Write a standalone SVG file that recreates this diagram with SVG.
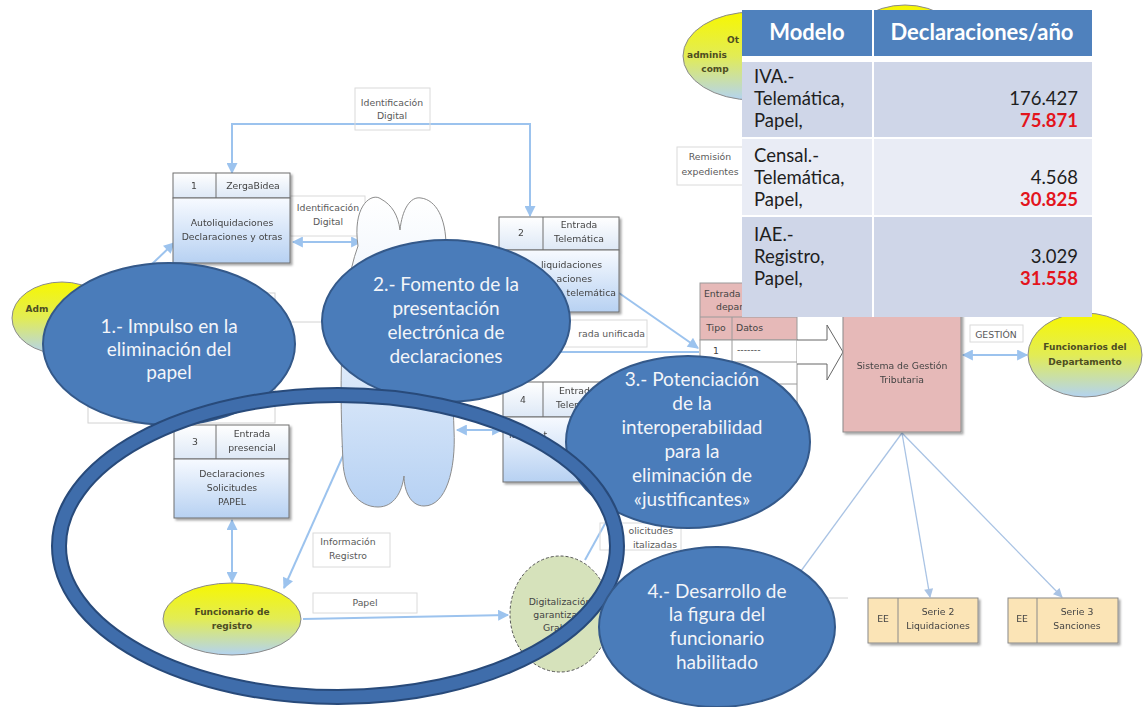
<svg xmlns="http://www.w3.org/2000/svg" width="1144" height="707" viewBox="0 0 1144 707">
<style>
.t{font-family:"DejaVu Sans",sans-serif;font-size:9.3px;fill:#444;text-anchor:middle}
.l{font-family:"DejaVu Sans",sans-serif;font-size:9.3px;fill:#5a5a5a;text-anchor:middle}
.s{text-anchor:start}
.e{text-anchor:end}
.y{font-family:"DejaVu Sans",sans-serif;font-size:9px;font-weight:bold;fill:#4d4d22;text-anchor:middle}
.big{font-family:Lato,"Open Sans",sans-serif;font-size:19px;fill:#f3f5f9;text-anchor:middle}
.th{font-family:Lato,"Open Sans",sans-serif;font-size:22px;font-weight:bold;fill:#fff;text-anchor:middle}
.tb{font-family:Lato,"Open Sans",sans-serif;font-size:18.5px;fill:#1e1e1e}
.num{font-family:Lato,"Open Sans",sans-serif;font-size:18.5px;fill:#1e1e1e;text-anchor:end}
.red{fill:#e3141c;font-weight:bold}
.conn{stroke:#9cc3ee;stroke-width:2;fill:none}
.fan{stroke:#a9c3e4;stroke-width:1.3;fill:none}
.lb{fill:none;stroke:#dadada;stroke-width:1}
.gl{fill:none;stroke:#d2d2d2;stroke-width:1}
.box{stroke:#6f6f6f;stroke-width:1}
.blue{fill:#4a7cba;stroke:#34598a;stroke-width:2}
.yel{fill:url(#gYel);stroke:#8a8a8a;stroke-width:1}
</style>
<defs>
<linearGradient id="gBody" x1="0" y1="0" x2="0" y2="1"><stop offset="0" stop-color="#f7faff"/><stop offset="1" stop-color="#b7d1f2"/></linearGradient>
<linearGradient id="gHead" x1="0" y1="0" x2="0" y2="1"><stop offset="0" stop-color="#ffffff"/><stop offset="1" stop-color="#dde8f6"/></linearGradient>
<linearGradient id="gCloud" x1="0" y1="0" x2="0" y2="1"><stop offset="0" stop-color="#ffffff"/><stop offset="0.4" stop-color="#eaf2fc"/><stop offset="1" stop-color="#b6d1f3"/></linearGradient>
<linearGradient id="gYel" x1="0" y1="0" x2="0" y2="1"><stop offset="0" stop-color="#f7f700"/><stop offset="0.5" stop-color="#e2ec55"/><stop offset="1" stop-color="#b3d3f1"/></linearGradient>
<filter id="sh" x="-10%" y="-10%" width="130%" height="130%"><feDropShadow dx="2" dy="2" stdDeviation="1.2" flood-color="#000" flood-opacity="0.35"/></filter>
<marker id="ah" viewBox="0 0 10 10" refX="9" refY="5" markerWidth="6" markerHeight="5.5" orient="auto-start-reverse" markerUnits="strokeWidth"><path d="M0,0 L10,5 L0,10 z" fill="#9cc3ee"/></marker>
<marker id="af" viewBox="0 0 10 10" refX="9" refY="5" markerWidth="8" markerHeight="7" orient="auto" markerUnits="strokeWidth"><path d="M0,0 L10,5 L0,10 z" fill="#a9c3e4"/></marker>
</defs>
<rect width="1144" height="707" fill="#ffffff"/>

<g id="connectors">
<path class="conn" d="M232,173 L232,124 L530,124 L530,216" marker-start="url(#ah)" marker-end="url(#ah)"/>
<path class="conn" d="M293,242 L361,242" marker-start="url(#ah)" marker-end="url(#ah)"/>
<path class="conn" d="M152,264 L174,243" marker-end="url(#ah)"/>
<path class="gl" d="M108,322 L340,322"/>
<rect class="gl" x="88" y="293" width="187" height="130"/>
<path class="conn" d="M619,293 L698,348" marker-end="url(#ah)"/>
<path class="conn" d="M455,352 L699,352"/>
<path class="conn" d="M457,430 L502,430" marker-start="url(#ah)" marker-end="url(#ah)"/>
<path class="conn" d="M232,520 L232,582" marker-start="url(#ah)" marker-end="url(#ah)"/>
<path class="conn" d="M284,588 L350,440" marker-start="url(#ah)" marker-end="url(#ah)"/>
<path class="conn" d="M303,619 L508,615" marker-end="url(#ah)"/>
<path class="conn" d="M585,560 L628,482" stroke-width="1.5"/>
<path class="conn" d="M963,355 L1027,355" marker-start="url(#ah)" marker-end="url(#ah)"/>
<path class="fan" d="M902,433 L790,586"/>
<path class="fan" d="M902,433 L930,597" marker-end="url(#af)"/>
<path class="fan" d="M902,433 L1062,597" marker-end="url(#af)"/>
<path class="gl" d="M827,598 L848,598"/>
</g>

<g id="label-ident-top"><rect class="lb" x="355" y="88" width="75" height="42"/><text class="l" x="392" y="106">Identificación</text><text class="l" x="392" y="119">Digital</text></g>
<g id="label-ident-mid"><rect class="lb" x="290" y="196" width="75" height="40"/><text class="l" x="328" y="211">Identificación</text><text class="l" x="328" y="225">Digital</text></g>
<g id="label-unificada"><rect class="lb" x="500" y="320" width="147" height="27"/><text class="l e" x="645" y="337">rada unificada</text></g>
<g id="label-info"><rect class="lb" x="313" y="533" width="77" height="34"/><text class="l" x="348" y="545">Información</text><text class="l" x="348" y="559">Registro</text></g>
<g id="label-papel"><rect class="lb" x="313" y="593" width="104" height="20"/><text class="l" x="365" y="606">Papel</text></g>
<g id="label-solic"><rect class="lb" x="600" y="523" width="81" height="27"/><text class="l e" x="673" y="534">olicitudes</text><text class="l e" x="677" y="548">italizadas</text></g>
<g id="label-gestion"><rect class="lb" x="970" y="325" width="53" height="17"/><text class="l" x="996" y="338">GESTIÓN</text></g>
<g id="label-remision"><rect class="lb" x="677" y="147" width="80" height="38"/><text class="l" x="710" y="160">Remisión</text><text class="l" x="710" y="175">expedientes</text></g>

<g id="box1" filter="url(#sh)">
<rect class="box" x="173" y="173" width="117" height="25" fill="url(#gHead)"/>
<rect class="box" x="173" y="198" width="117" height="65" fill="url(#gBody)"/>
<path class="box" d="M216,173 V198"/>
<text class="t" x="194" y="189">1</text><text class="t" x="253" y="189">ZergaBidea</text>
<text class="t" x="232" y="226">Autoliquidaciones</text><text class="t" x="232" y="240">Declaraciones y otras</text>
</g>
<g id="box2" filter="url(#sh)">
<rect class="box" x="499" y="217" width="120" height="33" fill="url(#gHead)"/>
<rect class="box" x="499" y="250" width="120" height="62" fill="url(#gBody)"/>
<path class="box" d="M543,217 V250"/>
<text class="t" x="521" y="236">2</text><text class="t" x="579" y="228">Entrada</text><text class="t" x="579" y="242">Telemática</text>
<text class="t e" x="602" y="268">liquidaciones</text><text class="t e" x="592" y="282">aciones</text><text class="t e" x="616" y="296">telemática</text>
</g>
<g id="box3" filter="url(#sh)">
<rect class="box" x="174" y="425" width="115" height="34" fill="url(#gHead)"/>
<rect class="box" x="174" y="459" width="115" height="59" fill="url(#gBody)"/>
<path class="box" d="M216,425 V459"/>
<text class="t" x="195" y="445">3</text><text class="t" x="252" y="437">Entrada</text><text class="t" x="252" y="451">presencial</text>
<text class="t" x="232" y="477">Declaraciones</text><text class="t" x="232" y="491">Solicitudes</text><text class="t" x="232" y="505">PAPEL</text>
</g>
<g id="box4" filter="url(#sh)">
<rect class="box" x="503" y="382" width="116" height="35" fill="url(#gHead)"/>
<rect class="box" x="503" y="417" width="116" height="65" fill="url(#gBody)"/>
<path class="box" d="M543,382 V417"/>
<text class="t" x="523" y="403">4</text><text class="t s" x="559" y="394">Entrad</text><text class="t s" x="556" y="408">Telem</text>
<text class="t s" x="509" y="438">itudes, t</text>
</g>

<g id="cloud">
<path d="M358,246 C352,205 372,192 381,199 C392,205 398,215 400,230 C402,210 410,196 421,198 C436,200 446,218 446,246 C452,300 452,380 454,430 C456,470 446,506 424,506 C410,506 404,490 404,476 C402,492 394,507 378,507 C358,507 344,488 343,462 C340,400 338,300 358,246 Z" fill="url(#gCloud)" stroke="#8c8c8c" stroke-width="1"/>
</g>

<g id="adm"><ellipse class="yel" cx="62" cy="318" rx="50" ry="36"/><text class="y s" x="37" y="312">Adm</text></g>
<g id="otras"><ellipse class="yel" cx="905" cy="50" rx="60" ry="45"/><ellipse class="yel" cx="753" cy="56" rx="70" ry="44"/><text class="y s" x="733" y="43">Ot</text><text class="y s" x="707" y="58">adminis</text><text class="y s" x="715" y="72">comp</text></g>
<g id="funcionario-registro"><ellipse class="yel" cx="232" cy="619" rx="69" ry="36"/><text class="y" x="232" y="615">Funcionario de</text><text class="y" x="232" y="629">registro</text></g>
<g id="funcionarios-depto"><ellipse class="yel" cx="1085" cy="355" rx="57" ry="42"/><text class="y" x="1085" y="350">Funcionarios del</text><text class="y" x="1085" y="365">Departamento</text></g>
<g id="digitalizacion"><ellipse cx="560" cy="614" rx="50" ry="58" fill="#d6e2bb" stroke="#555" stroke-width="1" stroke-dasharray="3,2"/><text class="t" x="560" y="605">Digitalización</text><text class="t" x="561" y="618">garantizada</text><text class="t s" x="543" y="631">Graba</text></g>

<g id="entrada-depto">
<rect x="700" y="283" width="97" height="57" fill="#e6b9b8" stroke="#9a9a9a"/>
<rect x="700" y="340" width="97" height="88" fill="#ffffff" stroke="#9a9a9a"/>
<path d="M700,317 H797 M700,362 H797 M700,384 H797 M700,406 H797 M732,317 V428" stroke="#9a9a9a" fill="none"/>
<text class="t s" x="704" y="297">Entrada</text><text class="t s" x="716" y="310">depar</text>
<text class="t" x="716" y="331">Tipo</text><text class="t s" x="736" y="331">Datos</text>
<text class="t" x="716" y="354">1</text><text class="t s" x="737" y="353" fill="#999">-------</text>
</g>
<g id="flecha"><path d="M797,340 L827,340 L827,325 L843,352 L827,380 L827,364 L797,364" fill="#fff" stroke="#666" stroke-width="1"/></g>
<g id="sistema" filter="url(#sh)"><rect x="843" y="300" width="118" height="132" fill="#e6b9b8" stroke="#8a8a8a"/><text class="t" x="902" y="369">Sistema de Gestión</text><text class="t" x="902" y="383">Tributaria</text></g>
<g id="serie2" filter="url(#sh)"><rect x="868" y="598" width="110" height="45" fill="#fbe4b6" stroke="#8a8a8a"/><path d="M898,598 V643" stroke="#8a8a8a"/><text class="t" x="883" y="622">EE</text><text class="t" x="938" y="615">Serie 2</text><text class="t" x="938" y="629">Liquidaciones</text></g>
<g id="serie3" filter="url(#sh)"><rect x="1008" y="598" width="110" height="45" fill="#fbe4b6" stroke="#8a8a8a"/><path d="M1037,598 V643" stroke="#8a8a8a"/><text class="t" x="1022" y="622">EE</text><text class="t" x="1077" y="615">Serie 3</text><text class="t" x="1077" y="629">Sanciones</text></g>

<g id="tabla">
<rect x="742" y="10" width="350" height="307" fill="#ffffff"/>
<rect x="742" y="10" width="350" height="46" fill="#4f81bd"/>
<rect x="742" y="62" width="350" height="75" fill="#cfd6e8"/>
<rect x="742" y="139" width="350" height="76" fill="#e9ecf5"/>
<rect x="742" y="217" width="350" height="100" fill="#cfd6e8"/>
<path d="M873,10 V317" stroke="#ffffff" stroke-width="2"/>
<text class="th" x="807" y="40">Modelo</text><text class="th" x="982" y="40">Declaraciones/año</text>
<text class="tb" x="754" y="83">IVA.-</text><text class="tb" x="754" y="105">Telemática,</text><text class="tb" x="754" y="127">Papel,</text>
<text class="num" x="1078" y="105">176.427</text><text class="num red" x="1078" y="127">75.871</text>
<text class="tb" x="754" y="162">Censal.-</text><text class="tb" x="754" y="184">Telemática,</text><text class="tb" x="754" y="206">Papel,</text>
<text class="num" x="1078" y="184">4.568</text><text class="num red" x="1078" y="206">30.825</text>
<text class="tb" x="754" y="241">IAE.-</text><text class="tb" x="754" y="263">Registro,</text><text class="tb" x="754" y="285">Papel,</text>
<text class="num" x="1078" y="263">3.029</text><text class="num red" x="1078" y="285">31.558</text>
</g>

<g id="objetivo1"><ellipse class="blue" cx="169" cy="344" rx="126" ry="81"/><text class="big" x="169" y="333">1.- Impulso en la</text><text class="big" x="169" y="356">eliminación del</text><text class="big" x="169" y="379">papel</text></g>
<g id="objetivo2"><ellipse class="blue" cx="446" cy="321" rx="124" ry="81"/><text class="big" x="446" y="291">2.- Fomento de la</text><text class="big" x="446" y="315">presentación</text><text class="big" x="446" y="339">electrónica de</text><text class="big" x="446" y="363">declaraciones</text></g>
<g id="objetivo3"><ellipse class="blue" cx="688" cy="442" rx="122" ry="86"/><text class="big" x="692" y="386">3.- Potenciación</text><text class="big" x="692" y="410">de la</text><text class="big" x="692" y="434">interoperabilidad</text><text class="big" x="692" y="458">para la</text><text class="big" x="692" y="482">eliminación de</text><text class="big" x="692" y="506">«justificantes»</text></g>
<g id="anillo"><ellipse cx="338" cy="546" rx="279" ry="151" fill="none" stroke="#284a7a" stroke-width="16"/><ellipse cx="338" cy="546" rx="279" ry="151" fill="none" stroke="#3f6dab" stroke-width="12"/></g>
<g id="objetivo4"><ellipse class="blue" cx="717" cy="627" rx="118" ry="80"/><text class="big" x="717" y="598">4.- Desarrollo de</text><text class="big" x="717" y="621">la figura del</text><text class="big" x="717" y="645">funcionario</text><text class="big" x="717" y="669">habilitado</text></g>
</svg>
